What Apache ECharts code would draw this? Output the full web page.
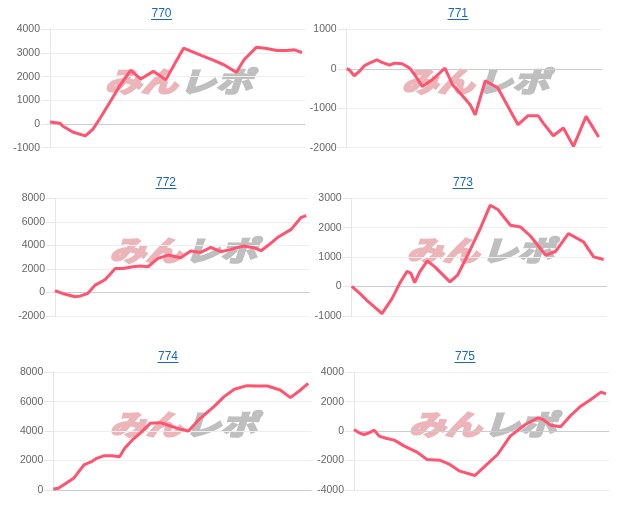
<!DOCTYPE html>
<html><head><meta charset="utf-8">
<script src="https://cdn.jsdelivr.net/npm/echarts@6/dist/echarts.min.js"></script>
<style>html,body{margin:0;padding:0;background:#fff}#c{width:617px;height:529px}</style>
</head><body><div id="c"></div>
<script>
var titles = ['770','771','772','773','774','775'];

var x770 = [0,4,5,9,14,17,20,24,28,32,36,41,46,50,53,60,65,69,74,77,82,86,90,94,97,100];
var y770 = [84,28,-84,-336,-503,-224,266,965,1664,2266,1902,2224,1874,2643,3203,2895,2685,2503,2182,2713,3245,3189,3105,3100,3133,3021];

var x771 = [0,1,3,5,7,9,12,14,17,19,22,25,27,30,34,39,42,45,49,51,55,60,64,68,72,76,78,82,86,90,95,100];
var y771 = [0,-25,-177,-68,76,143,228,160,93,143,127,17,-152,-447,-278,17,-405,-616,-911,-1165,-304,-489,-954,-1418,-1190,-1190,-1376,-1696,-1502,-1966,-1207,-1730];

var x772 = [0,3,8,10,13,16,20,24,27,31,34,37,41,45,50,54,58,62,66,70,75,79,82,85,89,94,98,100];
var y772 = [142,-85,-369,-312,-85,624,1106,2043,2043,2184,2241,2184,2894,3177,2950,3518,3404,3830,3461,3660,3943,3801,3546,4028,4738,5362,6383,6525];

var x773 = [0,3,6,9,12,16,19,22,23.5,25,27,30,33,35,39,42,46,51,55,58,63,67,71,77,81,86,92,96,100];
var y773 = [11,-215,-465,-691,-918,-408,102,521,450,136,499,873,669,499,159,385,1065,1972,2765,2618,2085,2028,1711,1065,1201,1802,1518,1008,918];

var x774 = [0,2,5,8,10,12,15,17,20,23,26,28,31,34,38,42,46,50,53,57,63,67,71,76,80,84,89,93,97,100];
var y774 = [68,113,453,793,1246,1700,1926,2153,2334,2334,2266,2833,3399,3853,4533,4578,4351,4125,4011,4759,5666,6346,6844,7093,7071,7071,6799,6278,6799,7252];

var x775 = [0,2,4,6,8,10,13,16,20,25,29,34,38,42,48,52,57,62,68,73,75,78,82,86,90,94,98,100];
var y775 = [113,-113,-227,-113,68,-340,-499,-612,-1020,-1428,-1926,-1972,-2266,-2720,-3014,-2380,-1586,-340,453,907,793,408,295,1065,1700,2153,2652,2538];

var yMin = [-1000,-2000,-2000,-1000,0,-4000];
var yMax = [4000,1000,8000,3000,8000,4000];
var yStep = [1000,1000,2000,1000,2000,2000];

var xs = [x770,x771,x772,x773,x774,x775];
var ys = [y770,y771,y772,y773,y774,y775];

// layout
var grids = [
  {left:50, top:29.3, width:255, height:118.4},
  {left:346.7, top:29.3, width:255, height:118.4},
  {left:55, top:198.3, width:254.3, height:117.7},
  {left:351.7, top:198.3, width:255, height:117.7},
  {left:53.3, top:372.3, width:258, height:117.7},
  {left:354, top:372.3, width:255, height:117.7}
];
var titleX = [161.5, 458, 166, 463, 168, 465];

var chart = echarts.init(document.getElementById('c'));
var option = {animation:false, grid:[], xAxis:[], yAxis:[], series:[], graphic:[]};
var LINE = '#ff5470';
for (var i=0;i<6;i++){
  var g = grids[i];
  option.grid.push({left:g.left, top:g.top, width:g.width, height:g.height});
  option.xAxis.push({type:'value', gridIndex:i, min:0, max:101.2,
    axisLabel:{show:false}, axisTick:{show:false}, splitLine:{show:false},
    axisLine:{show:true, onZero:true, lineStyle:{color:'#cccccc', width:1}}});
  option.yAxis.push({type:'value', gridIndex:i, min:yMin[i], max:yMax[i], interval:yStep[i],
    axisLine:{show:true, lineStyle:{color:'#e6e6e6'}},
    axisTick:{show:true, length:9, lineStyle:{color:'#e6e6e6'}},
    axisLabel:{margin:10, color:'#666666', fontSize:10.5, fontFamily:'Arial, "Liberation Sans", sans-serif',
      formatter:function(v){return String(v);}},
    splitLine:{show:true, lineStyle:{color:'#eeeeee'}}});
  var d = [];
  for (var k=0;k<xs[i].length;k++) d.push([xs[i][k], ys[i][k]]);
  option.series.push({type:'line', xAxisIndex:i, yAxisIndex:i, data:d, showSymbol:false, symbol:'none',
    lineStyle:{color:LINE, width:3}, z:5});
  var ty = g.top - 15.8;
  option.graphic.push({type:'text', x:titleX[i], y:ty, z:10,
    style:{text:titles[i], textAlign:'center', textVerticalAlign:'middle', fill:'#1a66c6',
      font:'12px Arial, "Liberation Sans", sans-serif'}});
  option.graphic.push({type:'line', z:10, shape:{x1:titleX[i]-10.5, y1:ty+6, x2:titleX[i]+10.5, y2:ty+6},
    style:{stroke:'#1a66c6', lineWidth:1}});
  var cx = g.left + g.width/2, cy = g.top + g.height/2 - 7;
  option.graphic.push({type:'text', x:cx, y:cy, z:0, silent:true, scaleX:1.3, scaleY:1,
    style:{text:'みん', textAlign:'right', textVerticalAlign:'middle', fill:'#ebb5b9',
      stroke:'#ebb5b9', lineWidth:2.2,
      font:'italic bold 28px "Noto Sans CJK JP", sans-serif'}});
  option.graphic.push({type:'text', x:cx+2, y:cy, z:0, silent:true, scaleX:1.3, scaleY:1,
    style:{text:'レポ', textAlign:'left', textVerticalAlign:'middle', fill:'#bfbfbf',
      stroke:'#bfbfbf', lineWidth:2.2,
      font:'italic bold 28px "Noto Sans CJK JP", sans-serif'}});
}
chart.setOption(option);
</script></body></html>
